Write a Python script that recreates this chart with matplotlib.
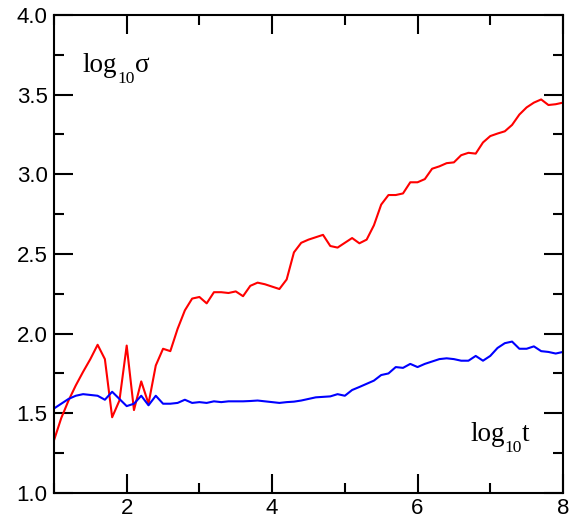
import numpy as np
import matplotlib
matplotlib.use("Agg")
import matplotlib.pyplot as plt
from matplotlib.ticker import MultipleLocator
from matplotlib.transforms import offset_copy

# log10 t sampled every 0.1 from 1 to 8
log_t = np.round(np.arange(1.0, 8.01, 0.1), 1)

red_sigma = [
    1.33, 1.47, 1.58, 1.675, 1.76, 1.84, 1.93, 1.84, 1.475, 1.58,
    1.925, 1.52, 1.70, 1.56, 1.80, 1.905, 1.89, 2.03, 2.146, 2.22,
    2.23, 2.19, 2.26, 2.26, 2.255, 2.265, 2.235, 2.30, 2.32, 2.31,
    2.295, 2.28, 2.34, 2.51, 2.57, 2.59, 2.605, 2.62, 2.55, 2.54,
    2.57, 2.60, 2.567, 2.59, 2.68, 2.81, 2.87, 2.87, 2.88, 2.95,
    2.95, 2.97, 3.035, 3.05, 3.07, 3.075, 3.12, 3.135, 3.13, 3.20,
    3.24, 3.256, 3.27, 3.31, 3.375, 3.42, 3.45, 3.47, 3.435, 3.44,
    3.45,
]

blue_sigma = [
    1.53, 1.56, 1.59, 1.61, 1.62, 1.615, 1.61, 1.585, 1.635, 1.59,
    1.545, 1.56, 1.61, 1.55, 1.61, 1.56, 1.56, 1.565, 1.585, 1.565,
    1.57, 1.565, 1.575, 1.57, 1.575, 1.575, 1.575, 1.577, 1.58, 1.575,
    1.57, 1.565, 1.57, 1.573, 1.58, 1.59, 1.60, 1.603, 1.606, 1.62,
    1.61, 1.646, 1.665, 1.685, 1.705, 1.74, 1.75, 1.79, 1.785, 1.81,
    1.79, 1.81, 1.825, 1.84, 1.845, 1.84, 1.83, 1.83, 1.86, 1.83,
    1.86, 1.91, 1.94, 1.95, 1.905, 1.905, 1.92, 1.89, 1.885, 1.875,
    1.885,
]

fig = plt.figure(figsize=(5.78, 5.23), dpi=100)
ax = fig.add_axes([0.0934, 0.0575, 0.8806, 0.9138])

ax.plot(log_t, red_sigma, color="#ff0000", lw=1.5)
ax.plot(log_t, blue_sigma, color="#0000ff", lw=1.5)

ax.set_xlim(1, 8)
ax.set_ylim(1.0, 4.0)
ax.set_xticks([2, 4, 6, 8])
ax.xaxis.set_minor_locator(MultipleLocator(1))
ax.set_yticks(np.arange(1.0, 4.01, 0.5))
ax.set_yticklabels([f"{v:.1f}" for v in np.arange(1.0, 4.01, 0.5)])
ax.yaxis.set_minor_locator(MultipleLocator(0.25))

ax.tick_params(which="both", direction="in", top=True, right=True, width=1.5)
ax.tick_params(which="major", length=14)
ax.tick_params(which="minor", length=7)
ax.tick_params(axis="x", which="major", pad=3.5)
ax.tick_params(axis="y", which="major", pad=4.5)
for lab in ax.get_xticklabels() + ax.get_yticklabels():
    lab.set_fontfamily("Liberation Sans")
    lab.set_fontsize(16)
for sp in ax.spines.values():
    sp.set_linewidth(1.5)


def sub_label(x, y, base, sub, tail):
    # "log" + lowered small "10" + symbol, chained one after another
    renderer = fig.canvas.get_renderer()
    t = ax.text(x, y, base, transform=ax.transAxes, fontsize=19.5,
                family="Liberation Serif", va="baseline", ha="left")
    w = t.get_window_extent(renderer).width
    tr = offset_copy(ax.transAxes, fig=fig, x=w, y=-11, units="dots")
    s = ax.text(x, y, sub, transform=tr, fontsize=12.5,
                family="Liberation Serif", va="baseline", ha="left")
    w2 = w + s.get_window_extent(renderer).width
    tr2 = offset_copy(ax.transAxes, fig=fig, x=w2, y=0, units="dots")
    ax.text(x, y, tail, transform=tr2, fontsize=19.5,
            family="Liberation Serif", va="baseline", ha="left")


sub_label(0.057, 0.880, "log", "10", "σ")
sub_label(0.818, 0.108, "log", "10", "t")

fig.savefig("out.png", dpi=100)
